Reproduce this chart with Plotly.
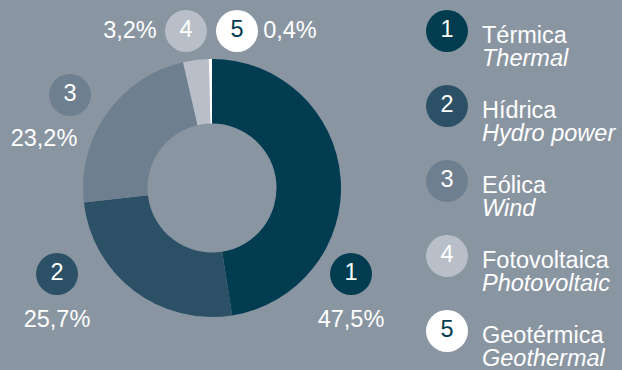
import plotly.graph_objects as go

# Electricity generation mix by source
numbers = ["1", "2", "3", "4", "5"]
names_es = ["Térmica", "Hídrica", "Eólica", "Fotovoltaica", "Geotérmica"]
names_en = ["Thermal", "Hydro power", "Wind", "Photovoltaic", "Geothermal"]
shares = [47.5, 25.7, 23.2, 3.2, 0.4]

colors = ["#013c50", "#2c5166", "#6e7f8f", "#b8bfc8", "#ffffff"]
num_colors = ["#ffffff", "#ffffff", "#ffffff", "#ffffff", "#013c50"]
BG = "#8a95a2"
FONT = "Liberation Sans, Arial, sans-serif"
FS = 23.5
W, H = 622, 370

# Donut geometry (pixels)
CX, CY, R = 212, 188, 129

# Callout badge centres and their percentage text positions (pixels)
badge_xy = [(351, 274), (57, 274), (70, 95), (186, 31), (237, 31)]
pct_xy = [(351, 321), (57, 321), (44, 140), (130, 32), (290, 32)]

# Legend layout (pixels)
LEG_X, LEG_TEXT_X, LEG_Y0, LEG_STEP = 447, 481, 31, 75


def fmt(v):
    return f"{v:.1f}".replace(".", ",") + "%"


fig = go.Figure()

fig.add_trace(go.Pie(
    values=shares,
    labels=names_es,
    hole=0.5,
    sort=False,
    direction="clockwise",
    rotation=0,
    marker=dict(colors=colors, line=dict(width=0)),
    textinfo="none",
    hoverinfo="label+percent",
    showlegend=False,
    domain=dict(x=[(CX - R) / W, (CX + R) / W],
                y=[1 - (CY + R) / H, 1 - (CY - R) / H]),
))

# Numbered badges next to the donut
fig.add_trace(go.Scatter(
    x=[p[0] for p in badge_xy],
    y=[p[1] for p in badge_xy],
    mode="markers+text",
    marker=dict(size=42, color=colors, line=dict(width=0)),
    text=numbers,
    textposition="middle center",
    textfont=dict(family=FONT, size=FS, color=num_colors),
    hoverinfo="skip",
    showlegend=False,
))

# Percentage labels
fig.add_trace(go.Scatter(
    x=[p[0] for p in pct_xy],
    y=[p[1] for p in pct_xy],
    mode="text",
    text=[fmt(v) for v in shares],
    textposition="middle center",
    textfont=dict(family=FONT, size=FS, color="#ffffff"),
    hoverinfo="skip",
    showlegend=False,
))

# Legend badges
leg_y = [LEG_Y0 + i * LEG_STEP for i in range(len(numbers))]
fig.add_trace(go.Scatter(
    x=[LEG_X] * len(numbers),
    y=leg_y,
    mode="markers+text",
    marker=dict(size=42, color=colors, line=dict(width=0)),
    text=numbers,
    textposition="middle center",
    textfont=dict(family=FONT, size=FS, color=num_colors),
    hoverinfo="skip",
    showlegend=False,
))

annotations = []
for y, es, en in zip(leg_y, names_es, names_en):
    annotations.append(dict(
        x=LEG_TEXT_X, y=y + 4, xref="x", yref="y", text=es,
        showarrow=False, xanchor="left", yanchor="middle", borderpad=0,
        font=dict(family=FONT, size=FS, color="#ffffff"),
    ))
    annotations.append(dict(
        x=LEG_TEXT_X, y=y + 27, xref="x", yref="y", text=f"<i>{en}</i>",
        showarrow=False, xanchor="left", yanchor="middle", borderpad=0,
        font=dict(family=FONT, size=FS, color="#ffffff"),
    ))

fig.update_layout(
    width=W, height=H,
    margin=dict(l=0, r=0, t=0, b=0),
    paper_bgcolor=BG, plot_bgcolor=BG,
    xaxis=dict(range=[0, W], visible=False, fixedrange=True),
    yaxis=dict(range=[H, 0], visible=False, fixedrange=True),
    annotations=annotations,
)

fig.write_html("out.html")
